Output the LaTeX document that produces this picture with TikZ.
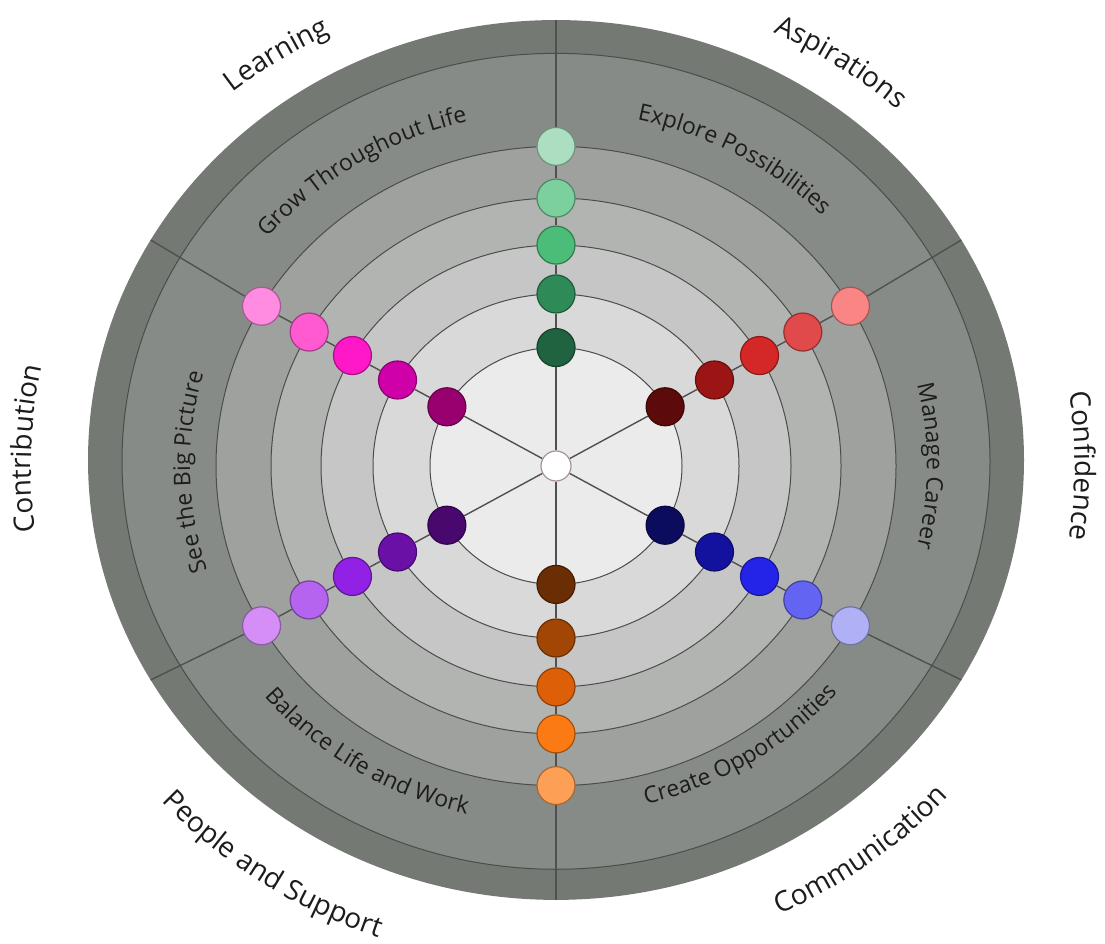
\documentclass[tikz,border=0pt]{standalone}
\usepackage{fontspec}
\setmainfont{Open Sans}
\usetikzlibrary{decorations.text}
\pgfdeclarelayer{ringlayer}
\pgfdeclarelayer{spokelayer}
\pgfsetlayers{ringlayer,spokelayer,main}
\newcommand\lblfont{\fontsize{28}{34}\selectfont}
\newcommand\bndfont{\fontsize{23}{28}\selectfont}
% rings
\definecolor{ringA}{HTML}{747974}
\definecolor{ringB}{HTML}{878B87}
\definecolor{ringC}{HTML}{9EA19E}
\definecolor{ringD}{HTML}{B2B4B2}
\definecolor{ringE}{HTML}{C5C6C5}
\definecolor{ringF}{HTML}{D9D9D9}
\definecolor{ringG}{HTML}{EBEBEB}
\definecolor{ringline}{HTML}{4A4D4A}
\definecolor{spokec}{HTML}{505050}
\definecolor{txt}{HTML}{1C1C1C}
\definecolor{centerc}{HTML}{A890A0}
% green (top)
\definecolor{g1}{HTML}{206341}
\definecolor{g2}{HTML}{2E8B57}
\definecolor{g3}{HTML}{4CBD78}
\definecolor{g4}{HTML}{7BD09D}
\definecolor{g5}{HTML}{ACDFC2}
% red (upper right)
\definecolor{r1}{HTML}{5C0A0A}
\definecolor{r2}{HTML}{9B1515}
\definecolor{r3}{HTML}{D42828}
\definecolor{r4}{HTML}{E04A4A}
\definecolor{r5}{HTML}{F98585}
% blue (lower right)
\definecolor{b1}{HTML}{0C0C5E}
\definecolor{b2}{HTML}{12129E}
\definecolor{b3}{HTML}{2424E8}
\definecolor{b4}{HTML}{6464F2}
\definecolor{b5}{HTML}{B0B0F6}
% orange (bottom)
\definecolor{o1}{HTML}{6B2D03}
\definecolor{o2}{HTML}{A24606}
\definecolor{o3}{HTML}{DD5F08}
\definecolor{o4}{HTML}{FB7A14}
\definecolor{o5}{HTML}{FD9F55}
% purple (lower left)
\definecolor{p1}{HTML}{48086E}
\definecolor{p2}{HTML}{6A10A6}
\definecolor{p3}{HTML}{9221E6}
\definecolor{p4}{HTML}{B464EE}
\definecolor{p5}{HTML}{D48EF6}
% pink (upper left)
\definecolor{k1}{HTML}{980070}
\definecolor{k2}{HTML}{D000A8}
\definecolor{k3}{HTML}{FF18C8}
\definecolor{k4}{HTML}{FF5AD0}
\definecolor{k5}{HTML}{FF8CE0}
\begin{document}
\begin{tikzpicture}[x=1pt,y=1pt,
  dot/.style={circle, minimum size=38pt, inner sep=0pt, line width=1.2pt},
  spoke/.style={draw=spokec, line width=1.4pt},
  ring/.style={draw=ringline, line width=1pt},
  lbl/.style={decorate, decoration={text along path, text align=center, text color=txt, text={|\lblfont|#1}}},
  bnd/.style={decorate, decoration={text along path, text align=center, text color=txt, text={|\bndfont|#1}}}
]
\useasboundingbox (0,0) rectangle (1105,943);
\begin{scope}[shift={(556,477)}, yscale=0.94]
  \begin{pgfonlayer}{ringlayer}
    \fill[ringA] (0,6.4) circle[radius=468];
    \draw[ring, fill=ringB] (0,5) circle[radius=434];
    \draw[ring, fill=ringC] (0,0) circle[radius=340];
    \draw[ring, fill=ringD] (0,0) circle[radius=285];
    \draw[ring, fill=ringE] (0,0) circle[radius=235];
    \draw[ring, fill=ringF] (0,0) circle[radius=183];
    \draw[ring, fill=ringG] (0,0) circle[radius=126];
  \end{pgfonlayer}
  \node[dot, minimum size=30pt, fill=white, draw=centerc] (c) at (0,0) {};
  \foreach \nm/\ang in {g/90, r/30, b/-30, o/-90, p/-150, k/150} {
    \foreach \i/\rad in {1/126, 2/183, 3/235, 4/285, 5/340} {
      \node[dot, fill=\nm\i, draw=\nm\i!65!black] (\nm\i) at (\ang:\rad) {};
    }
    \coordinate (\nm-end) at ([shift={(\ang:468)}]0,6.4);
  }
  \begin{pgfonlayer}{spokelayer}
    \foreach \nm in {g,r,b,o,p,k} {
      \draw[spoke] (c) -- (\nm1) -- (\nm2) -- (\nm3) -- (\nm4) -- (\nm5) -- (\nm-end);
    }
  \end{pgfonlayer}
\end{scope}
\begin{scope}[shift={(556,477)}]
  % band texts
  \path[bnd={Grow Throughout Life}] (152:377 and 354.4) arc[start angle=152, end angle=92, x radius=377, y radius=354.4];
  \path[bnd={Explore Possibilities}] (91:377 and 354.4) arc[start angle=91, end angle=31, x radius=377, y radius=354.4];
  \path[bnd={Manage Career}] (30:371 and 348.7) arc[start angle=30, end angle=-30, x radius=371, y radius=348.7];
  \path[bnd={Create Opportunities}] (272:371 and 348.7) arc[start angle=272, end angle=332, x radius=371, y radius=348.7];
  \path[bnd={Balance Life and Work}] (208:381 and 358.1) arc[start angle=208, end angle=268, x radius=381, y radius=358.1];
  \path[bnd={See the Big Picture}] (212:366 and 344) arc[start angle=212, end angle=150, x radius=366, y radius=344];
  % outer labels
  \path[lbl={Learning}] (153:512 and 481.3) arc[start angle=153, end angle=93, x radius=512, y radius=481.3];
  \path[lbl={Aspirations}] (86:510 and 479.4) arc[start angle=86, end angle=26, x radius=510, y radius=479.4];
  \path[lbl={Confidence}] (30:519 and 487.9) arc[start angle=30, end angle=-30, x radius=519, y radius=487.9];
  \path[lbl={Communication}] (277:527 and 495.4) arc[start angle=277, end angle=337, x radius=527, y radius=495.4];
  \path[lbl={People and Support}] (206:532 and 500.1) arc[start angle=206, end angle=266, x radius=532, y radius=500.1];
  \path[lbl={Contribution}] (208:525 and 493.5) arc[start angle=208, end angle=148, x radius=525, y radius=493.5];
\end{scope}
\end{tikzpicture}
\end{document}
